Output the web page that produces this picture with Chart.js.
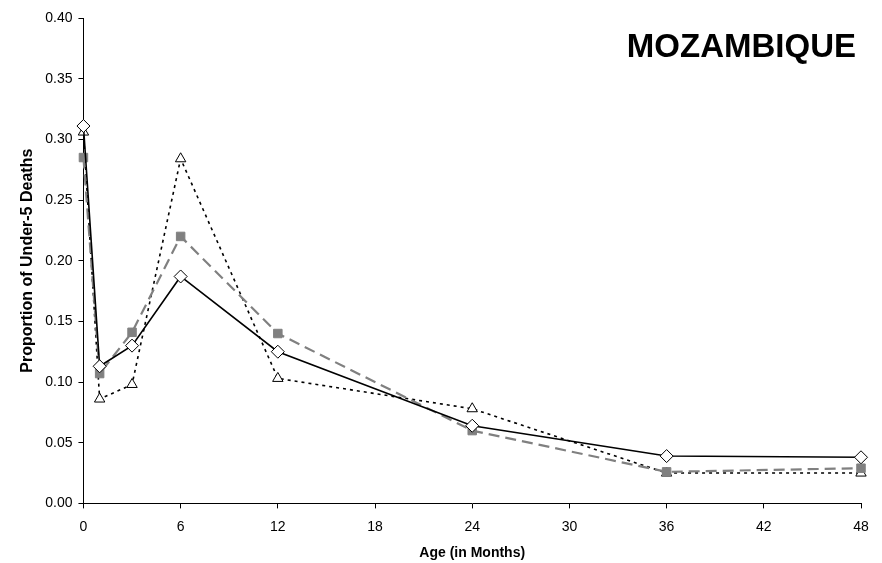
<!DOCTYPE html>
<html lang="en">
<head>
    <meta charset="UTF-8">
    <title>Mozambique - Proportion of Under-5 Deaths</title>
    <script src="https://cdn.jsdelivr.net/npm/chart.js"></script>
    <style>
        html, body {
            margin: 0;
            padding: 0;
            background: #ffffff;
        }
        .chart-container {
            width: 882px;
            height: 563px;
            position: relative;
        }
    </style>
</head>
<body>
    <div class="chart-container">
        <canvas id="mozChart"></canvas>
    </div>

    <script>
        // Data
        const chartTitle = 'MOZAMBIQUE';
        const ageMonths = [0, 1, 3, 6, 12, 24, 36, 48];
        const seriesDiamond = [0.311, 0.113, 0.130, 0.187, 0.125, 0.064, 0.039, 0.038];
        const seriesSquare = [0.285, 0.107, 0.141, 0.220, 0.140, 0.060, 0.026, 0.029];
        const seriesTriangle = [0.306, 0.086, 0.098, 0.284, 0.103, 0.078, 0.025, 0.025];
        const xTicks = [0, 6, 12, 18, 24, 30, 36, 42, 48];
        const yTicks = [0, 0.05, 0.10, 0.15, 0.20, 0.25, 0.30, 0.35, 0.40];

        const FONT = 'Arial, "Liberation Sans", sans-serif';

        function toPoints(values) {
            return ageMonths.map((m, i) => ({ x: m, y: values[i] }));
        }

        // Draws the country name inside the plot area, top right
        const cornerTitle = {
            id: 'cornerTitle',
            afterDraw(chart) {
                const { ctx, chartArea } = chart;
                ctx.save();
                ctx.font = 'bold 33px ' + FONT;
                ctx.fillStyle = '#000';
                ctx.textAlign = 'right';
                ctx.textBaseline = 'middle';
                ctx.fillText(chartTitle, chartArea.right - 5, chartArea.top + 30);
                ctx.restore();
            }
        };

        const axisCommon = {
            border: { display: true, color: '#000', width: 1 },
            grid: {
                display: true,
                drawOnChartArea: false,
                drawTicks: true,
                tickLength: 5,
                color: '#000'
            }
        };

        new Chart(document.getElementById('mozChart').getContext('2d'), {
            type: 'line',
            data: {
                datasets: [
                    {
                        label: 'Series 1',
                        data: toPoints(seriesDiamond),
                        borderColor: '#000',
                        borderWidth: 1.6,
                        pointStyle: 'rectRot',
                        pointRadius: 6.5,
                        pointBackgroundColor: '#fff',
                        pointBorderColor: '#000',
                        pointBorderWidth: 1,
                        clip: false,
                        tension: 0
                    },
                    {
                        label: 'Series 2',
                        data: toPoints(seriesSquare),
                        borderColor: '#808080',
                        borderWidth: 2.2,
                        borderDash: [11, 6],
                        pointStyle: 'rect',
                        pointRadius: 6,
                        pointBackgroundColor: '#808080',
                        pointBorderColor: '#808080',
                        pointBorderWidth: 1,
                        clip: false,
                        tension: 0
                    },
                    {
                        label: 'Series 3',
                        data: toPoints(seriesTriangle),
                        borderColor: '#000',
                        borderWidth: 1.6,
                        borderDash: [3, 4],
                        pointStyle: 'triangle',
                        pointRadius: 6,
                        pointBackgroundColor: '#fff',
                        pointBorderColor: '#000',
                        pointBorderWidth: 1,
                        clip: false,
                        tension: 0
                    }
                ]
            },
            options: {
                responsive: true,
                maintainAspectRatio: false,
                animation: false,
                layout: {
                    padding: { top: 18, right: 21, bottom: 1, left: 18 }
                },
                plugins: {
                    legend: { display: false },
                    title: { display: false },
                    tooltip: { enabled: false }
                },
                scales: {
                    x: {
                        ...axisCommon,
                        type: 'linear',
                        min: 0,
                        max: 48,
                        afterBuildTicks: axis => {
                            axis.ticks = xTicks.map(v => ({ value: v }));
                        },
                        ticks: {
                            color: '#000',
                            font: { family: FONT, size: 14 },
                            padding: 10,
                            maxRotation: 0
                        },
                        title: {
                            display: true,
                            text: 'Age (in Months)',
                            color: '#000',
                            font: { family: FONT, size: 14, weight: 'bold' },
                            padding: { top: 0, bottom: 0 }
                        }
                    },
                    y: {
                        ...axisCommon,
                        min: 0,
                        max: 0.40,
                        afterBuildTicks: axis => {
                            axis.ticks = yTicks.map(v => ({ value: v }));
                        },
                        ticks: {
                            color: '#000',
                            font: { family: FONT, size: 14 },
                            padding: 6,
                            callback: value => value.toFixed(2)
                        },
                        title: {
                            display: true,
                            text: 'Proportion of Under-5 Deaths',
                            color: '#000',
                            font: { family: FONT, size: 16, weight: 'bold' },
                            padding: { top: 0, bottom: 2 }
                        }
                    }
                }
            },
            plugins: [cornerTitle]
        });
    </script>
</body>
</html>
